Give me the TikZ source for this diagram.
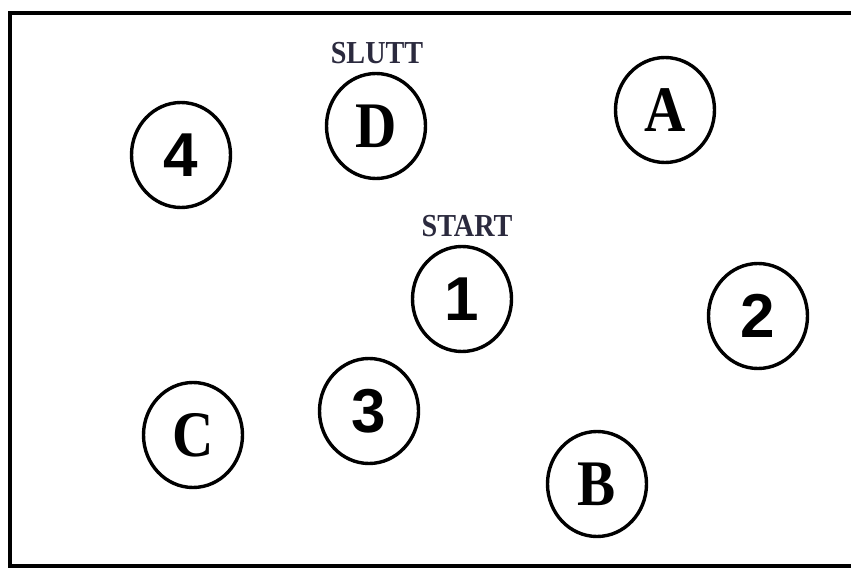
\documentclass[tikz,border=0pt]{standalone}
\usepackage{fontspec}
\setmainfont{Liberation Serif}[FakeStretch=0.88]
\newfontfamily\numfont{Liberation Sans}
\usetikzlibrary{shapes.geometric}
\definecolor{labelcol}{HTML}{2B2A3E}
\tikzset{
  ring/.style={ellipse, draw=black, line width=3.4pt, minimum width=99pt, minimum height=105pt, inner sep=0pt},
  letterring/.style={ring, font=\bfseries\fontsize{65}{65}\selectfont},
  numring/.style={ring, font=\numfont\bfseries\fontsize{62}{62}\selectfont},
  tag/.style={text=labelcol, font=\bfseries\fontsize{32}{32}\selectfont, inner sep=0pt},
  frame/.style={line width=3.5pt, black}
}
\begin{document}
\begin{tikzpicture}[x=1pt,y=-1pt]
\useasboundingbox (0,0) rectangle (851,569);
\fill[white] (0,0) rectangle (851,569);
% frame (open on the right)
\draw[frame] (851,13) -- (10,13) -- (10,566) -- (851,566);
% circles
\node[numring]    (n4) at (181,155) {4};
\node[letterring] (D)  at (376,126) {D};
\node[letterring] (A)  at (665,110) {A};
\node[numring]    (n1) at (462,299) {1};
\node[numring]    (n2) at (758,316) {2};
\node[numring]    (n3) at (369,411) {3};
\node[letterring] (C)  at (193,435) {C};
\node[letterring] (B)  at (597,484) {B};
% labels
\node[tag] (slutt) at (377,53) {SLUTT};
\node[tag] (start) at (467,226) {START};
\end{tikzpicture}
\end{document}
